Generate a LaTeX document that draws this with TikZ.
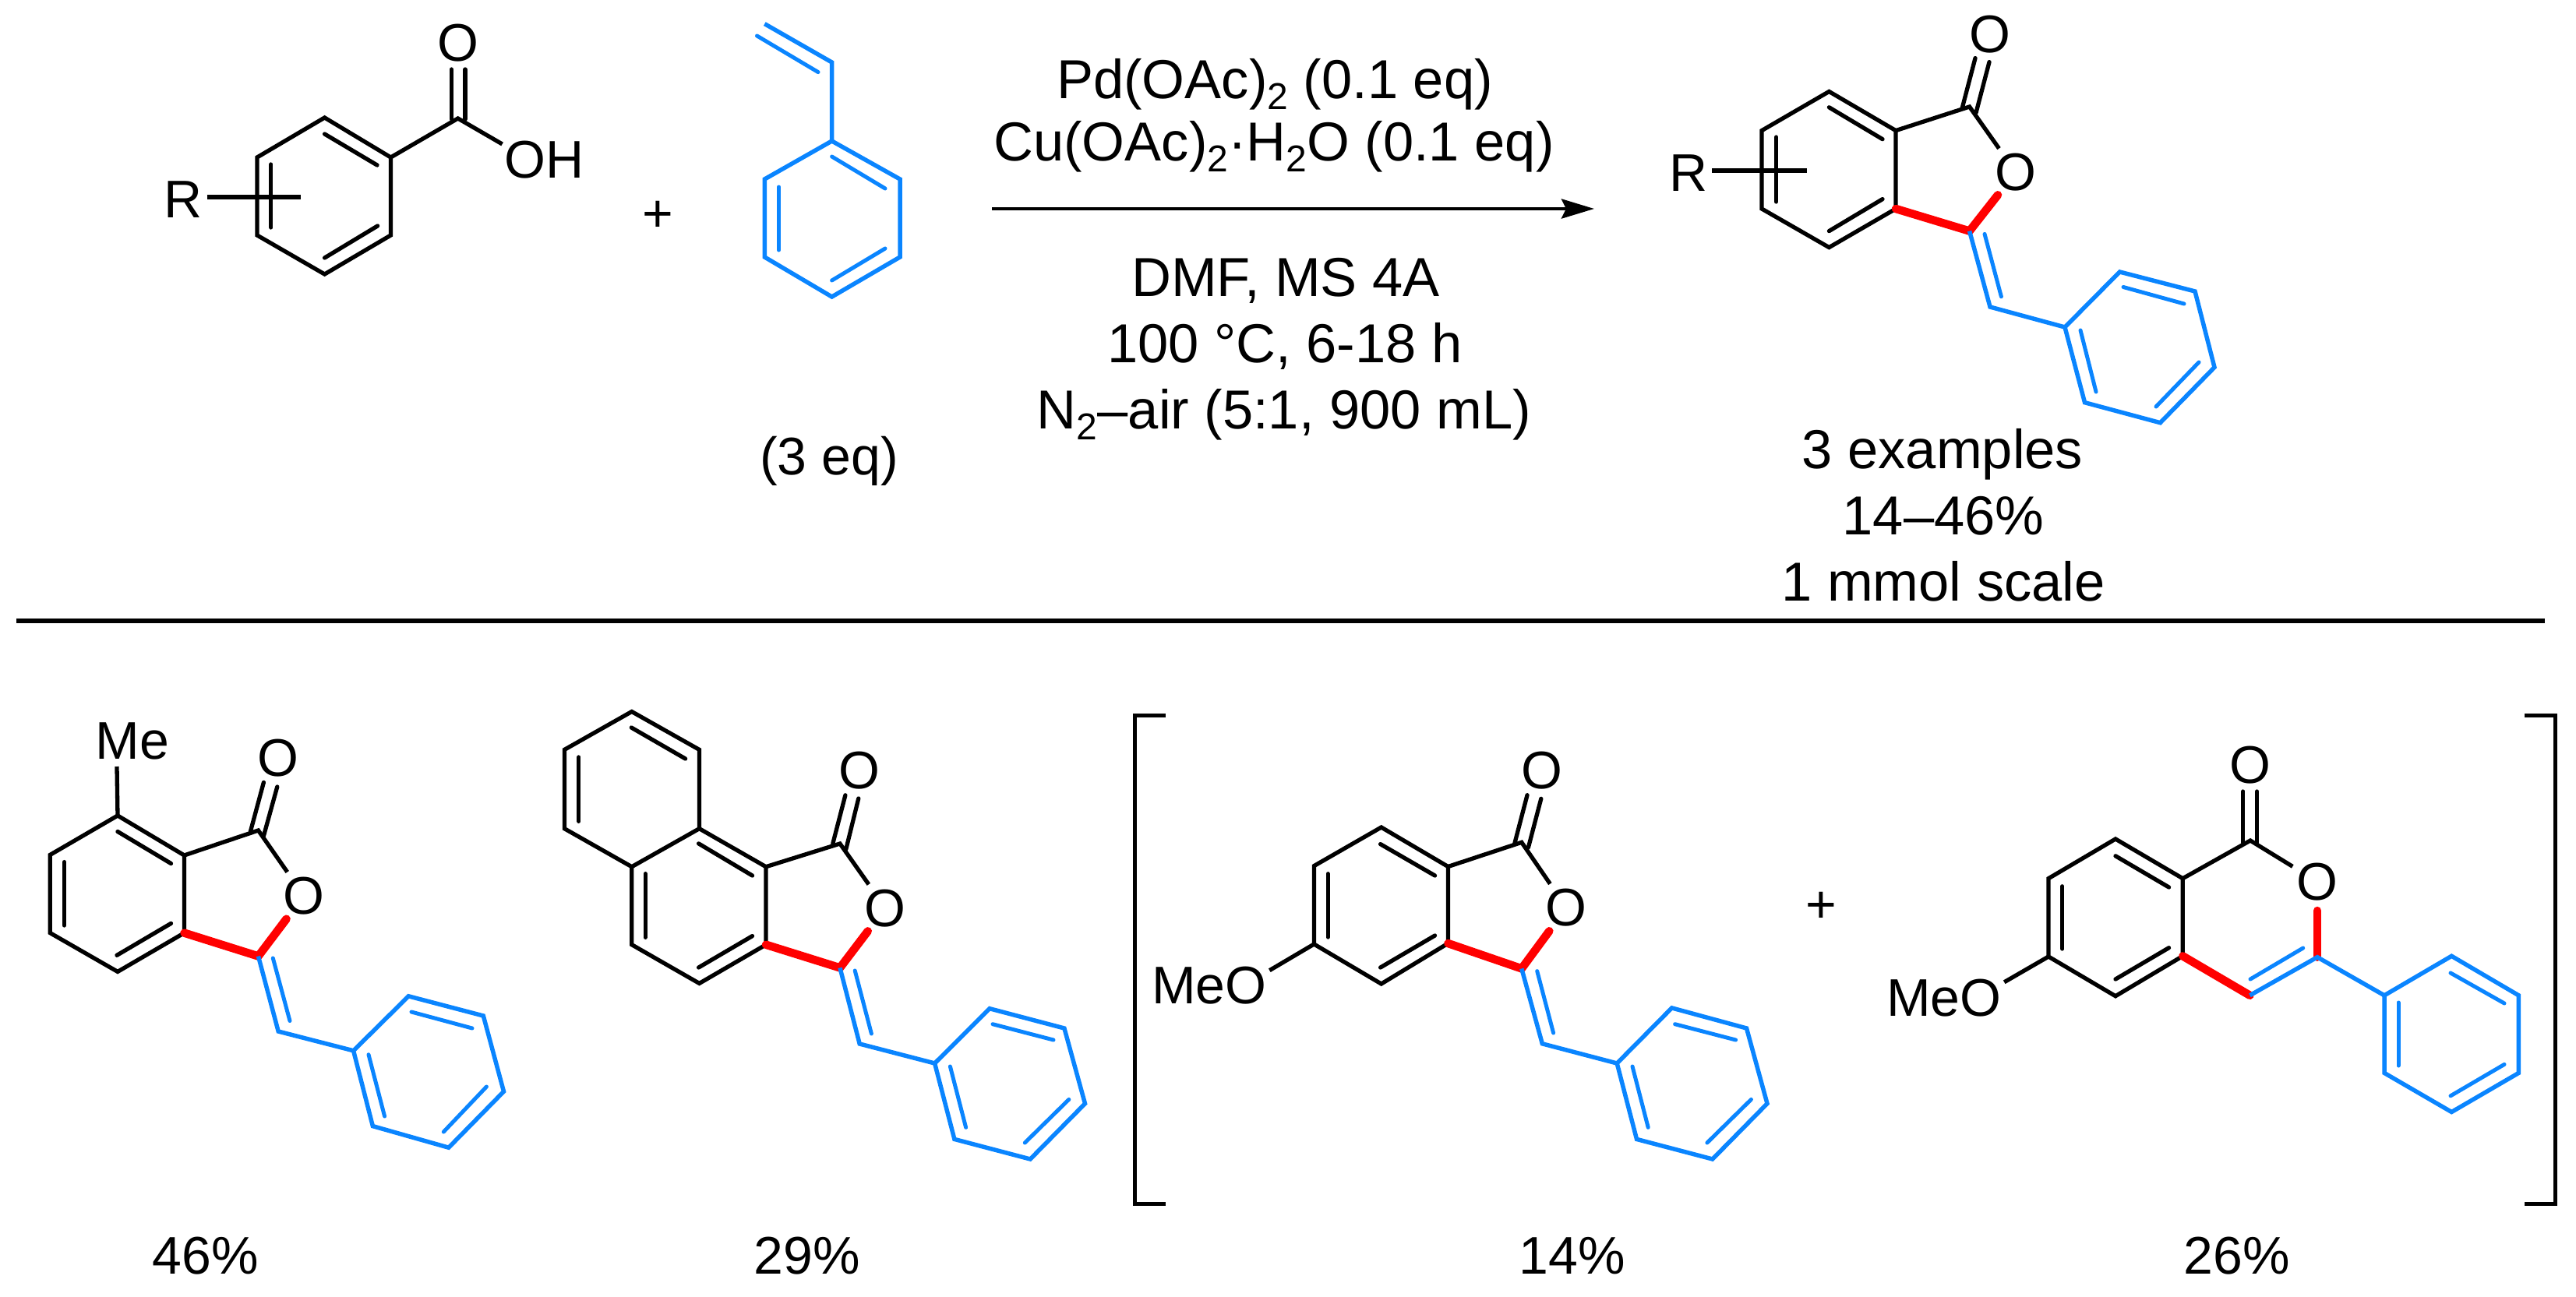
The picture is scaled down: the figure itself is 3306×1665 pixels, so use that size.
\documentclass[tikz,border=0pt]{standalone}
\usepackage{fontspec}
\setmainfont{Liberation Sans}
\usetikzlibrary{arrows.meta}
\definecolor{chemblue}{HTML}{0A85FF}
\definecolor{chemred}{HTML}{FF0000}
\newcommand{\subtwo}{\raisebox{-14.5pt}{\fontsize{48}{48}\selectfont 2}}
\tikzset{
  bond/.style={draw=black,line width=5.3pt,line join=miter},
  bluebond/.style={draw=chemblue,line width=5.5pt,line join=miter},
  redbond/.style={draw=chemred,line width=10.5pt,line cap=round,line join=round},
  inb/.style={draw=black,line width=5.3pt,line cap=round},
  inblue/.style={draw=chemblue,line width=5pt,line cap=round},
  label/.style={inner sep=0pt,font=\fontsize{68}{80}\selectfont},
  txt/.style={inner sep=0pt,anchor=base,font=\fontsize{68}{80}\selectfont},
  cond/.style={inner sep=0pt,anchor=base,font=\fontsize{70.5}{80}\selectfont},
  oxy/.style={circle,inner sep=0pt,minimum size=74pt,font=\fontsize{68}{80}\selectfont},
  rule/.style={draw=black,line width=5.5pt},
  brack/.style={draw=black,line width=5pt,line join=miter},
}
\begin{document}
\begin{tikzpicture}[x=1pt,y=-1pt]
\useasboundingbox (0,0) rectangle (3306,1665);
\fill[white] (0,0) rectangle (3306,1665);

% ---------- atoms ----------
\foreach \n/\x/\y in {
 a1/416.6/151,a2/501.5/202,a3/501.5/302,a4/416.6/352,a5/330/302,a6/330/202,ac/587.7/152,aoh/644.6/185,ar1/265.7/253,ar2/386.4/253,
 s1/1067.6/181,s2/1155/230,s3/1155/330,s4/1067.6/381,s5/981.3/330,s6/981.3/230,sv/1067.6/80,sw/981.3/30.6,
 b1/2347.4/117.5,b2/2433/167.6,b3/2433/268,b4/2347.4/317.6,b5/2261/268,b6/2261/167.6,bc/2527.6/137,bx/2527.6/296.6,bh/2554/394,
 bp1/2650/420,bp2/2720.4/349,bp3/2817/374,bp4/2842/471.5,bp5/2772.4/542.7,bp6/2675.5/516.7,br1/2197/219,br2/2319.4/219,
 c1/151/1047,c2/236.5/1098,c3/236.5/1197.6,c4/151/1247.4,c5/64.3/1197.6,c6/64.3/1097.4,cme/150/984,cc/331.5/1066,cx/331.5/1227.5,ch/357.2/1324,
 cp1/453.6/1348.8,cp2/524.3/1278.8,cp3/620.3/1304,cp4/646.5/1401.2,cp5/575.8/1473.2,cp6/478.4/1445.6,
 d1/810.8/913.5,d2/897.5/962.4,d3/897.5/1063.7,d4/810.8/1112.7,d5/724.4/1063.7,d6/724.4/962.4,d7/983/1112.7,d8/983/1212.7,d9/897.5/1262.4,d10/810.8/1212.7,
 dc/1078/1083,dx/1078/1242.4,dh/1103.2/1340,dp1/1199.6/1365,dp2/1270/1294.7,dp3/1365.9/1320,dp4/1392.5/1416.7,dp5/1322.2/1488,dp6/1224.9/1462.4,
 e1/1772.7/1062,e2/1858.4/1112.5,e3/1858.4/1211,e4/1772.7/1263,e5/1686.4/1212,e6/1686.4/1111.6,eom/1629.3/1245.7,ec/1952.8/1081.3,ex/1952.8/1243.4,eh/1979.3/1339.8,
 ep1/2075.2/1365,ep2/2145.6/1293.9,ep3/2241.5/1320,ep4/2268/1416.7,ep5/2197.8/1488,ep6/2100.5/1462.4,
 f1/2715/1077,f2/2801.3/1127.7,f3/2801.3/1227.3,f4/2715/1278.7,f5/2629/1228,f6/2629/1127.7,fom/2572.2/1260.8,fc/2888/1079,f7/2887.4/1277.8,f8/2974/1228.7,
 fp1/3060/1277.8,fp2/3146.3/1227.3,fp3/3232.4/1277.8,fp4/3232.4/1377.4,fp5/3146.3/1427.5,fp6/3060/1377.4,
 la/1456.3/918.3,lb/1496/918.3,lc/1456.3/1545,ld/1496/1545,ra/3279.4/918.3,rb/3239.8/918.3,rc/3279.4/1545,rd/3239.8/1545,
 h1/21/797,h2/3266/797,ar3/1273/268,ar4/2046/268}{\coordinate (\n) at (\x,\y);}

% ---------- labels ----------
\node[label] (aR) at (235,256) {R};
\node[label] (aO) at (587.7,55) {O};
\node[label] (aOH) at (698.6,205) {OH};
\node[label] (plus1) at (844.5,277.5) {+};
\node[txt] (eq3) at (1064,609) {(3 eq)};
\node[cond] (t1) at (1636,126) {Pd(OAc)\subtwo{} (0.1 eq)};
\node[cond] (t2) at (1635,206) {Cu(OAc)\subtwo{}·H\subtwo{}O (0.1 eq)};
\node[cond] (t3) at (1650,380) {DMF, MS 4A};
\node[cond] (t4) at (1649,465) {100 °C, 6-18 h};
\node[cond] (t5) at (1648,550) {N\subtwo{}–air (5:1, 900 mL)};
\node[label] (bR) at (2167,222) {R};
\node[label] (bO) at (2554,44) {O};
\node[oxy] (bOr) at (2587,221) {O};
\node[cond] (t6) at (2493,601) {3 examples};
\node[cond] (t7) at (2494,686) {14–46\%};
\node[cond] (t8) at (2494,771) {1 mmol scale};
\node[label] (cMe) at (170,951) {Me};
\node[label] (cO) at (357,973) {O};
\node[oxy] (cOr) at (390,1150) {O};
\node[txt] (y1) at (264,1635) {46\%};
\node[label] (dO) at (1103,989) {O};
\node[oxy] (dOr) at (1136.3,1165.7) {O};
\node[txt] (y2) at (1036,1635) {29\%};
\node[label] (eMeO) at (1552,1265) {MeO};
\node[label] (eO) at (1978.8,988.6) {O};
\node[oxy] (eOr) at (2010.4,1165.3) {O};
\node[txt] (y3) at (2018,1635) {14\%};
\node[label] (plus2) at (2337,1165) {+};
\node[label] (fMeO) at (2495,1280.6) {MeO};
\node[label] (fO) at (2888,981.7) {O};
\node[oxy] (fOr) at (2974,1131.8) {O};
\node[txt] (y4) at (2871,1635) {26\%};

% ---------- rule, arrow, brackets ----------
\draw[rule] (h1) -- (h2);
\draw[draw=black,line width=4.6pt,-{Stealth[length=42pt,width=25pt,inset=6pt]}] (ar3) -- (ar4);
\draw[brack] (lb) -- (la) -- (lc) -- (ld);
\draw[brack] (rb) -- (ra) -- (rc) -- (rd);

% ---------- black frameworks ----------
\draw[bond] (a1)--(a2)--(a3)--(a4)--(a5)--(a6)--cycle;
\draw[bond] (a2)--(ac)--(aoh);
\draw[bond] (ar1)--(ar2);
\draw[bond] (b1)--(b2)--(b3)--(b4)--(b5)--(b6)--cycle;
\draw[bond] (b2)--(bc)--(bOr);
\draw[bond] (br1)--(br2);
\draw[bond] (c1)--(c2)--(c3)--(c4)--(c5)--(c6)--cycle;
\draw[bond] (c1)--(cme);
\draw[bond] (c2)--(cc)--(cOr);
\draw[bond] (d1)--(d2)--(d3)--(d4)--(d5)--(d6)--cycle;
\draw[bond] (d3)--(d7)--(d8)--(d9)--(d10)--(d4);
\draw[bond] (d7)--(dc)--(dOr);
\draw[bond] (e1)--(e2)--(e3)--(e4)--(e5)--(e6)--cycle;
\draw[bond] (e5)--(eom);
\draw[bond] (e2)--(ec)--(eOr);
\draw[bond] (f1)--(f2)--(f3)--(f4)--(f5)--(f6)--cycle;
\draw[bond] (f5)--(fom);
\draw[bond] (f2)--(fc)--(fOr);

% ---------- black inner / double lines ----------
\foreach \n/\xa/\ya/\xb/\yb in {
 ai1/416.6/172/484/212, ai2/484.6/290/416.6/331, ai3/347.8/211/347.8/292, ao1/579.3/153/579.3/89, ao2/597/153/597/89,
 bi1/2347.4/137.8/2416/178.7, bi2/2416/255.6/2347.4/296.6, bi3/2279.6/176/2279.6/259, bo1/2518.4/138/2535/74.6, bo2/2536/144.7/2553/79.6,
 ci1/151/1067.5/219.5/1108.5, ci2/219.5/1185.4/150/1226.3, ci3/82.6/1106.6/82.6/1188, co1/321.4/1067.5/338.4/1004.4, co2/338.4/1073/355.8/1010,
 di1/810.3/934/879.6/974, di2/742.8/972/742.8/1054.3, di3/896.6/1082.9/965.5/1124, di4/965.5/1201.6/896.6/1242, di5/828.2/1121.6/828.2/1203.3,
 do1/1068.8/1083/1084.9/1020.8, do2/1085.8/1090/1101.8/1025,
 ei1/1771.6/1083.6/1841.5/1124, ei2/1841.5/1201/1771.6/1242, ei3/1704.3/1121.7/1704.3/1203, eo1/1943.6/1083.6/1960/1020.7, eo2/1961.4/1088/1977.8/1025.3,
 fi1/2715/1098.8/2783.5/1139, fi2/2783.5/1216.7/2715/1257, fi3/2646.8/1137.8/2646.8/1218, fo1/2878.8/1081.8/2878.8/1016, fo2/2896.6/1081.8/2896.6/1016}
 {\coordinate (\n a) at (\xa,\ya); \coordinate (\n b) at (\xb,\yb); \draw[inb] (\n a)--(\n b);}

% ---------- red bonds ----------
\draw[redbond] (b3)--(bx)--(bOr);
\draw[redbond] (c3)--(cx)--(cOr);
\draw[redbond] (d8)--(dx)--(dOr);
\draw[redbond] (e3)--(ex)--(eOr);
\draw[redbond] (f3)--(f7);
\draw[redbond] (f8)--(fOr);

% ---------- blue frameworks ----------
\draw[bluebond] (sw)--(sv)--(s1);
\draw[bluebond] (s1)--(s2)--(s3)--(s4)--(s5)--(s6)--cycle;
\draw[bluebond] (bx)--(bh)--(bp1);
\draw[bluebond] (bp1)--(bp2)--(bp3)--(bp4)--(bp5)--(bp6)--cycle;
\draw[bluebond] (cx)--(ch)--(cp1);
\draw[bluebond] (cp1)--(cp2)--(cp3)--(cp4)--(cp5)--(cp6)--cycle;
\draw[bluebond] (dx)--(dh)--(dp1);
\draw[bluebond] (dp1)--(dp2)--(dp3)--(dp4)--(dp5)--(dp6)--cycle;
\draw[bluebond] (ex)--(eh)--(ep1);
\draw[bluebond] (ep1)--(ep2)--(ep3)--(ep4)--(ep5)--(ep6)--cycle;
\draw[bluebond] (f7)--(f8)--(fp1);
\draw[bluebond] (fp1)--(fp2)--(fp3)--(fp4)--(fp5)--(fp6)--cycle;

% ---------- blue inner lines ----------
\foreach \n/\xa/\ya/\xb/\yb in {
 sj0/1050/92.6/971.5/46, sj1/1067.6/201/1136/242, sj2/999.5/240/999.5/321, sj3/1136/319/1067.6/360,
 bj0/2547/300.4/2568.4/380.8, bj1/2725/368.5/2803/390, bj2/2822/465/2767/522, bj3/2670/424/2690/503,
 cj0/350.3/1230/372/1310.5, cj1/528/1299/606/1320, cj2/624.4/1395/569.3/1453, cj3/473/1353.8/493.6/1433,
 dj0/1097.2/1246/1118.4/1327, dj1/1274/1314.7/1352/1335, dj2/1371.8/1411.4/1315.3/1467, dj3/1219.4/1369/1239.6/1447.3,
 ej0/1972.7/1246.6/1993.6/1326, ej1/2149.6/1314.7/2227.6/1335, ej2/2247.4/1411.4/2190.9/1467, ej3/2095/1369/2115.2/1447.3,
 fj0/2888/1257/2955.7/1217, fj1/3145/1249/3214/1288, fj2/3078/1287/3078/1368, fj3/3214/1366.4/3145/1406.8}
 {\coordinate (\n a) at (\xa,\ya); \coordinate (\n b) at (\xb,\yb); \draw[inblue] (\n a)--(\n b);}
\end{tikzpicture}
\end{document}
